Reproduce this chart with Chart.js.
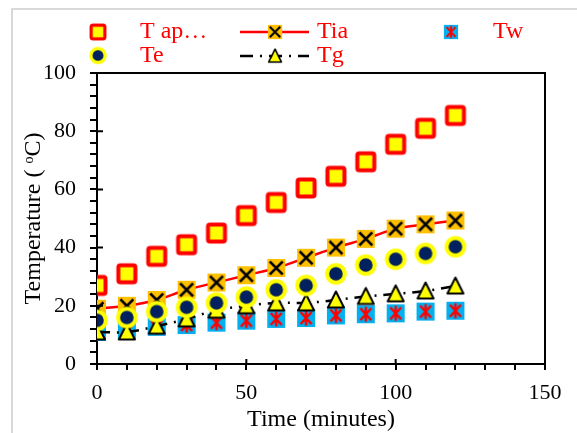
<!DOCTYPE html>
<html>
<head>
<meta charset="utf-8">
<script src="https://cdn.jsdelivr.net/npm/chart.js@4.4.0/dist/chart.umd.min.js"></script>
<style>
  html, body { margin: 0; padding: 0; background: #fff; }
  #wrap { width: 577px; height: 433px; }
</style>
</head>
<body>
<div id="wrap"><canvas id="tempChart" width="577" height="433"></canvas></div>
<script>
// time axis (minutes) and the five temperature series (°C)
const times = [0, 10, 20, 30, 40, 50, 60, 70, 80, 90, 100, 110, 120];
const tAp = [27, 31, 37, 41, 45, 51, 55.5, 60.5, 64.5, 69.5, 75.5, 81, 85.4];
const tIa = [19, 20, 22, 25.5, 28, 30.5, 33, 36.5, 40, 43, 46.5, 48, 49.3];
const tW  = [11, 11.5, 12.8, 13.4, 14.2, 14.9, 15.5, 15.8, 16.7, 17.1, 17.4, 18, 18.3];
const tE  = [15, 16, 18, 19.5, 21, 23, 25.5, 27, 31, 34, 36, 38, 40.3];
const tG  = [11, 11, 13, 15.5, 18.5, 20, 21, 21, 22, 23.2, 24.1, 25.1, 26.8];

const seriesLabels = ['T ap…', 'Tia', 'Tw', 'Te', 'Tg'];
const xTickLabels = [0, 50, 100, 150];
const yTickLabels = [0, 20, 40, 60, 80, 100];

const serif = "'Liberation Serif', 'Times New Roman', serif";
Chart.defaults.font.family = serif;
Chart.defaults.color = '#000';

// small canvases used as point styles
function makeMarker(size, draw) {
  const c = document.createElement('canvas');
  c.width = size; c.height = size;
  draw(c.getContext('2d'), size / 2);
  return c;
}
const apMarker = makeMarker(26, (g, m) => {
  g.fillStyle = '#ffff00';
  g.strokeStyle = '#ff0000';
  g.lineWidth = 4;
  g.beginPath();
  g.roundRect(m - 8.5, m - 8.5, 17, 17, 2);
  g.fill(); g.stroke();
});
const iaMarker = makeMarker(20, (g, m) => {
  g.fillStyle = '#ffc000';
  g.fillRect(m - 9, m - 9, 18, 18);
  g.strokeStyle = '#000';
  g.lineWidth = 2.5;
  g.beginPath();
  g.moveTo(m - 6.5, m - 6.5); g.lineTo(m + 6.5, m + 6.5);
  g.moveTo(m + 6.5, m - 6.5); g.lineTo(m - 6.5, m + 6.5);
  g.stroke();
});
const wMarker = makeMarker(20, (g, m) => {
  g.fillStyle = '#00b0f0';
  g.fillRect(m - 9, m - 9, 18, 18);
  g.strokeStyle = '#ff0000';
  g.lineWidth = 2.5;
  g.beginPath();
  g.moveTo(m - 5.5, m - 6); g.lineTo(m + 5.5, m + 6);
  g.moveTo(m + 5.5, m - 6); g.lineTo(m - 5.5, m + 6);
  g.moveTo(m, m - 7.5); g.lineTo(m, m + 7.5);
  g.stroke();
});
const eMarker = makeMarker(26, (g, m) => {
  g.fillStyle = '#002060';
  g.strokeStyle = '#ffff00';
  g.lineWidth = 4;
  g.beginPath();
  g.arc(m, m, 8.8, 0, Math.PI * 2);
  g.fill(); g.stroke();
});
const gMarker = makeMarker(22, (g, m) => {
  g.fillStyle = '#ffff00';
  g.strokeStyle = '#000';
  g.lineWidth = 2;
  g.lineJoin = 'round';
  g.beginPath();
  g.moveTo(m, m - 8.5);
  g.lineTo(m + 8, m + 7.5);
  g.lineTo(m - 8, m + 7.5);
  g.closePath();
  g.fill(); g.stroke();
});

const pairs = (ys) => times.map((t, i) => ({ x: t, y: ys[i] }));

// frame, top/right box edges, inner major ticks and the two-row legend
const decorations = {
  id: 'decorations',
  beforeDraw(chart) {
    const ctx = chart.ctx;
    ctx.save();
    ctx.fillStyle = '#fff';
    ctx.fillRect(0, 0, chart.width, chart.height);
    ctx.strokeStyle = '#d9d9d9';
    ctx.lineWidth = 2;
    ctx.strokeRect(12, 9, 700, 700);
    ctx.restore();
  },
  afterDraw(chart) {
    const { ctx, chartArea: a, scales } = chart;
    ctx.save();
    ctx.strokeStyle = '#000';
    ctx.lineWidth = 2;
    ctx.beginPath();
    ctx.moveTo(a.left, a.top); ctx.lineTo(a.right, a.top); ctx.lineTo(a.right, a.bottom);
    xTickLabels.forEach(v => {
      const px = scales.x.getPixelForValue(v);
      ctx.moveTo(px, a.bottom); ctx.lineTo(px, a.bottom - 5);
    });
    yTickLabels.forEach(v => {
      const py = scales.y.getPixelForValue(v);
      ctx.moveTo(a.left, py); ctx.lineTo(a.left + 6, py);
    });
    ctx.stroke();

    // legend: 3 columns, 2 rows, smaller markers
    const slots = [[98, 32], [275, 32], [451, 32], [98, 55.5], [275, 56]];
    const k = 0.8;
    ctx.font = '24px ' + serif;
    ctx.fillStyle = '#ff0000';
    ctx.textBaseline = 'middle';
    ctx.textAlign = 'left';
    chart.data.datasets.forEach((ds, i) => {
      const [mx, my] = slots[i];
      if (ds.showLine !== false) {
        ctx.save();
        ctx.strokeStyle = ds.borderColor;
        ctx.lineWidth = ds.borderWidth;
        ctx.setLineDash(ds.borderDash || []);
        ctx.beginPath();
        ctx.moveTo(mx - 35, my); ctx.lineTo(mx + 34, my);
        ctx.stroke();
        ctx.restore();
      }
      const img = ds.pointStyle;
      const w = img.width * k, h = img.height * k;
      ctx.drawImage(img, mx - w / 2, my - h / 2, w, h);
      ctx.fillText(ds.label, mx + 42, my);
    });
    ctx.restore();
  }
};

new Chart(document.getElementById('tempChart'), {
  type: 'line',
  data: {
    datasets: [
      { label: seriesLabels[0], data: pairs(tAp), showLine: false, pointStyle: apMarker, order: 4 },
      { label: seriesLabels[1], data: pairs(tIa), borderColor: '#ff0000', borderWidth: 2.5,
        tension: 0.35, pointStyle: iaMarker, order: 3 },
      { label: seriesLabels[2], data: pairs(tW), showLine: false, pointStyle: wMarker, order: 2 },
      { label: seriesLabels[3], data: pairs(tE), showLine: false, pointStyle: eMarker, order: 0 },
      { label: seriesLabels[4], data: pairs(tG), borderColor: '#000', borderWidth: 2.5,
        borderDash: [13, 7, 2, 7], tension: 0.35, pointStyle: gMarker, order: 1 }
    ]
  },
  options: {
    responsive: false,
    animation: false,
    devicePixelRatio: 1,
    layout: { padding: { top: 73, right: 32, left: 0, bottom: 0 } },
    plugins: { legend: { display: false }, tooltip: { enabled: false } },
    scales: {
      x: {
        type: 'linear', min: 0, max: 150,
        afterFit: s => { s.height = 69; },
        ticks: {
          stepSize: 10, autoSkip: false, maxRotation: 0, padding: 10.5,
          font: { size: 22 },
          callback: v => xTickLabels.includes(v) ? v : ''
        },
        grid: { drawOnChartArea: false, color: '#000', lineWidth: 2, tickLength: 6 },
        border: { color: '#000', width: 2 },
        title: { display: true, text: 'Time (minutes)', font: { size: 24, lineHeight: 1 },
                 padding: { top: 0, bottom: 1.5 } }
      },
      y: {
        min: 0, max: 100,
        afterFit: s => { s.width = 97; },
        ticks: {
          stepSize: 4, autoSkip: false, padding: 14,
          font: { size: 22 },
          callback: v => yTickLabels.includes(v) ? v : ''
        },
        grid: { drawOnChartArea: false, color: '#000', lineWidth: 2, tickLength: 7 },
        border: { color: '#000', width: 2 },
        title: { display: true, text: 'Temperature ( ᵒC)', font: { size: 24, lineHeight: 1 },
                 padding: { top: 22, bottom: 0 } }
      }
    }
  },
  plugins: [decorations]
});
</script>
</body>
</html>
